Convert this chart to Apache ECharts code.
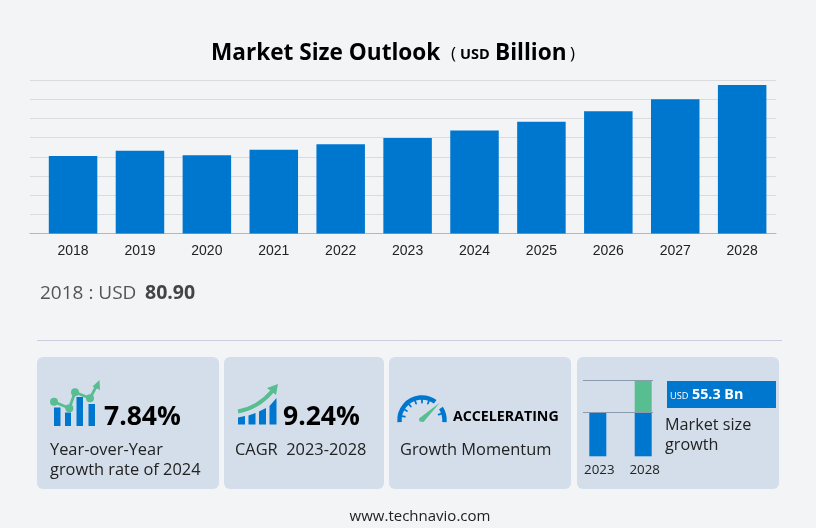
<!DOCTYPE html>
<html><head><meta charset="utf-8">
<style>html,body{margin:0;padding:0;background:#f3f4f6}#c{width:816px;height:528px}</style>
<script src="https://cdn.jsdelivr.net/npm/echarts@6/dist/echarts.min.js"></script>
</head><body><div id="c"></div>
<script>
const years = ['2018','2019','2020','2021','2022','2023','2024','2025','2026','2027','2028'];
const sizes = [80.9,86.2,81.5,87.2,93.0,99.6,107.4,116.5,127.3,140.0,154.9];
const miniYears = ['2023','2028'];
const miniBase = [44,44];
const miniGrowth = [0,32];

const BLUE='#0077cf', GREEN='#58bd91', PANEL='#d3deea';
const F='"Open Sans","Noto Sans",sans-serif';
function txt(x,y,t,size,weight,color,family,align){
  return {type:'text',z:20,x:x,y:y,style:{text:t,font:(weight||'normal')+' '+size+'px '+(family||F),fill:color||'#222',textAlign:align||'left',textVerticalAlign:'middle'}};
}
function panel(x,y,w,h){return {type:'rect',z:-10,shape:{x:x,y:y,width:w,height:h,r:6},style:{fill:PANEL}};}
function bar(x,y,w,h,c){return {type:'rect',z:5,shape:{x:x,y:y,width:w,height:h},style:{fill:c||BLUE}};}
function line(x1,y1,x2,y2,c,w){return {type:'line',z:6,shape:{x1:x1,y1:y1,x2:x2,y2:y2},style:{stroke:c,lineWidth:w,lineCap:'round'}};}
function poly(pts,c,z){return {type:'polygon',z:z||7,shape:{points:pts},style:{fill:c}};}

const g=[];
g.push(panel(37,357,182,132),panel(224,357,160,132),panel(389,357,182,132),panel(577,357,202,132));
g.push({type:'line',z:-10,shape:{x1:37,y1:340.5,x2:782,y2:340.5},style:{stroke:'#c9cede',lineWidth:1}});
// title
g.push(txt(211,53.5,'Market Size Outlook',22.6,'bold','#000'),txt(451,54,'(',17,'normal','#000'),
       txt(460,55,'USD',14.5,'bold','#000'),txt(495,53.5,'Billion',22.6,'bold','#000'),txt(570,54,')',17,'normal','#000'));
g.push(txt(40,294,'2018 : USD',19,'normal','#555'),txt(145,293,'80.90',19.5,'bold','#444'));
// YoY icon
g.push(bar(54,407.5,6.5,18.5),bar(65,412.5,6,13.5),bar(76.5,397,6.5,29),bar(88.5,404,6.5,22));
[[54,401.7,69.3,408.3],[69.3,408.3,75,392.3],[75,392.3,90,398.3],[90,398.3,97,385]].forEach(p=>g.push(line(p[0],p[1],p[2],p[3],GREEN,2.8)));
[[54,401.7],[69.3,408.3],[75,392.3],[90,398.3]].forEach(p=>g.push({type:'circle',z:7,shape:{cx:p[0],cy:p[1],r:4},style:{fill:GREEN}}));
g.push(poly([[99.5,380],[100,390],[92.5,386.5]],GREEN));
g.push(txt(104,417,'7.84%',26.5,'bold','#000'),txt(50,450,'Year-over-Year',16.4),txt(50,470,'growth rate of 2024',16.4));
// CAGR icon
g.push(poly([[238,417.5],[245,416],[245,424.5],[238,424.5]],BLUE,5),poly([[248.5,415.5],[255.5,413],[255.5,424.5],[248.5,424.5]],BLUE,5),
       poly([[259,411.5],[266,408],[266,424.5],[259,424.5]],BLUE,5),poly([[269.5,406],[276.5,398],[276.5,424.5],[269.5,424.5]],BLUE,5));
g.push({type:'bezierCurve',z:6,shape:{x1:238,y1:411.5,cpx1:252,cpy1:409,cpx2:263,cpy2:402,x2:272,y2:391.5},style:{fill:null,stroke:GREEN,lineWidth:4}});
g.push(poly([[278,384],[276,395],[267,388]],GREEN));
g.push(txt(283,417,'9.24%',26.5,'bold','#000'),txt(235,450,'CAGR  2023-2028',16.4));
// gauge icon
const cx=422,cy=420,r=22.5;
g.push({type:'arc',z:5,shape:{cx:cx,cy:cy,r:r,startAngle:Math.PI*0.97,endAngle:Math.PI*1.70,clockwise:true},style:{fill:null,stroke:BLUE,lineWidth:4.5}});
g.push({type:'arc',z:5,shape:{cx:cx,cy:cy,r:r,startAngle:Math.PI*1.82,endAngle:Math.PI*2.03,clockwise:true},style:{fill:null,stroke:BLUE,lineWidth:4.5}});
[1.06,1.17,1.28,1.39,1.5,1.61,1.9].forEach(a=>{const t=a*Math.PI;g.push(line(cx+(r-2)*Math.cos(t),cy+(r-2)*Math.sin(t),cx+(r-5)*Math.cos(t),cy+(r-5)*Math.sin(t),BLUE,1.8));});
g.push(poly([[440,402.5],[423.5,422],[419.5,421.5],[419,418.5]],GREEN));
g.push(txt(453,417,'ACCELERATING',14.2,'bold','#000'),txt(400,450,'Growth Momentum',16.4));
// mini chart decorations
g.push({type:'line',z:6,shape:{x1:583,y1:380.5,x2:653,y2:380.5},style:{stroke:'#8a9bad',lineWidth:1}},
       {type:'line',z:6,shape:{x1:583,y1:412.5,x2:653,y2:412.5},style:{stroke:'#8a9bad',lineWidth:1}});
g.push({type:'rect',z:5,shape:{x:667,y:381,width:109,height:27},style:{fill:BLUE}});
g.push(txt(670,396.5,'USD',9.2,'normal','#fff'),txt(692,395,'55.3 Bn',14.3,'bold','#fff'));
g.push(txt(665,425,'Market size',16.2),txt(665,445,'growth',16.2));
g.push(txt(420,517,'www.technavio.com',15,'normal','#222',F,'center'));

const chart=echarts.init(document.getElementById('c'),null,{renderer:'canvas'});
chart.setOption({
  animation:false,
  backgroundColor:'#f3f4f6',
  graphic:{elements:g},
  grid:[
    {left:30,width:746,top:80,height:153.5},
    {left:39.6,width:736,top:80,height:153.5},
    {left:575.1,width:90.8,top:380,height:76.3}
  ],
  xAxis:[
    {gridIndex:0,type:'category',data:[''],axisTick:{show:false},axisLabel:{show:false},axisLine:{lineStyle:{color:'#b3b6bb',width:1}}},
    {gridIndex:1,type:'category',data:years,axisTick:{show:false},axisLine:{show:false},
     axisLabel:{color:'#222',fontFamily:'"Liberation Sans",Arial,sans-serif',fontSize:14,margin:11}},
    {gridIndex:2,type:'category',data:miniYears,axisTick:{show:false},axisLine:{show:false},
     axisLabel:{color:'#222',fontFamily:F,fontSize:13.3,margin:7.5,padding:[0,0,0,3]}}
  ],
  yAxis:[
    {gridIndex:0,type:'value',min:0,max:160,interval:20,axisLabel:{show:false},axisLine:{show:false},axisTick:{show:false},splitLine:{lineStyle:{color:'#dadbe0',width:1}}},
    {gridIndex:1,type:'value',min:0,max:160,interval:20,show:false},
    {gridIndex:2,type:'value',min:0,max:76,show:false}
  ],
  series:[
    {type:'bar',xAxisIndex:1,yAxisIndex:1,data:sizes,barWidth:48.5,itemStyle:{color:BLUE},z:3},
    {type:'bar',xAxisIndex:2,yAxisIndex:2,stack:'m',data:miniBase,barWidth:17,itemStyle:{color:BLUE},z:3},
    {type:'bar',xAxisIndex:2,yAxisIndex:2,stack:'m',data:miniGrowth,barWidth:17,itemStyle:{color:GREEN},z:3}
  ]
});
</script></body></html>
